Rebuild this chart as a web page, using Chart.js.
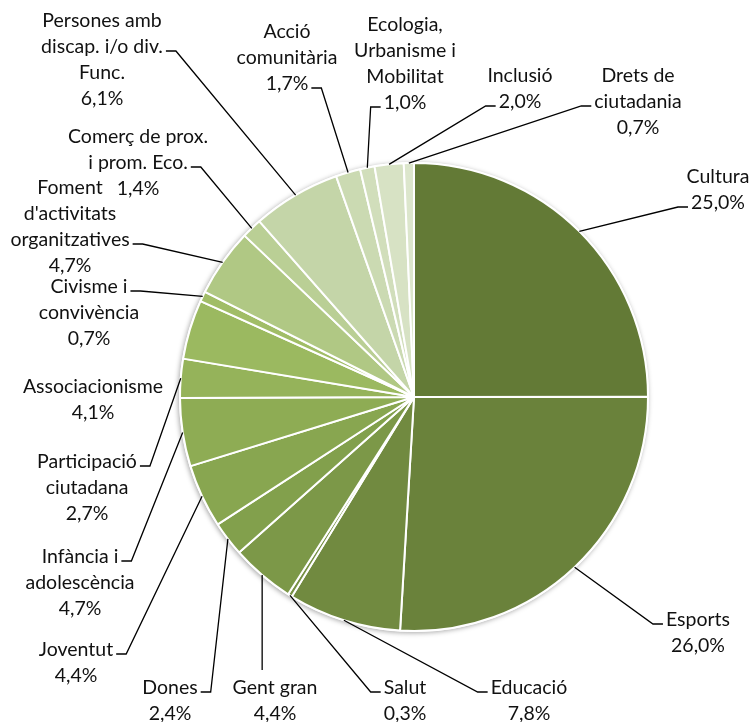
<!DOCTYPE html>
<html>
<head>
<meta charset="utf-8">
<script src="https://cdn.jsdelivr.net/npm/chart.js@4.4.1/dist/chart.umd.min.js"></script>
<style>
  html, body { margin: 0; padding: 0; background: #fff; }
  #wrap { width: 751px; height: 722px; }
</style>
</head>
<body>
<div id="wrap"><canvas id="pieChart" width="751" height="722"></canvas></div>
<script>
// categories (label lines), clockwise from 12 o'clock
const categories = [
  ['Cultura'], ['Esports'], ['Educació'], ['Salut'], ['Gent gran'], ['Dones'],
  ['Joventut'], ['Infància i', 'adolescència'], ['Participació', 'ciutadana'],
  ['Associacionisme'], ['Civisme i', 'convivència'],
  ['Foment', "d'activitats", 'organitzatives'], ['Comerç de prox.', 'i prom. Eco.'],
  ['Persones amb', 'discap. i/o div.', 'Func.'], ['Acció', 'comunitària'],
  ['Ecologia,', 'Urbanisme i', 'Mobilitat'], ['Inclusió'], ['Drets de', 'ciutadania']
];
const shares = [25.0, 26.0, 7.8, 0.3, 4.4, 2.4, 4.4, 4.7, 2.7, 4.1, 0.7, 4.7, 1.4, 6.1, 1.7, 1.0, 2.0, 0.7];

const sliceColors = [
  '#637a36', '#6a823b', '#718a40', '#769044', '#7c9848', '#82a04c',
  '#88a650', '#8eac54', '#95b35a', '#9bb960', '#a1bd67', '#b0c884',
  '#bacf95', '#c4d5a8', '#cbdab2', '#d1debb', '#d7e2c4', '#dce6cc'
];

// label placement (centre x, first line y), which side/line the leader hooks on
const labelLayout = [
  { x: 718, y: 177, side: 'left', line: 1 },
  { x: 698, y: 620, side: 'left', line: 0 },
  { x: 529, y: 688, side: 'left', line: 0 },
  { x: 405, y: 688, side: 'left', line: 0 },
  { x: 275, y: 688, side: 'top', line: 0 },
  { x: 170, y: 688, side: 'right', line: 0 },
  { x: 76, y: 650, side: 'right', line: 0 },
  { x: 80, y: 557, side: 'right', line: 0 },
  { x: 87, y: 462, side: 'right', line: 0 },
  { x: 93, y: 387, side: 'none', line: 0 },
  { x: 89, y: 287, side: 'right', line: 0 },
  { x: 70, y: 188, side: 'right', line: 2 },
  { x: 138, y: 137, side: 'right', line: 1 },
  { x: 102, y: 21, side: 'right', line: 1 },
  { x: 287, y: 32, side: 'right', line: 2 },
  { x: 405, y: 25, side: 'left', line: 3 },
  { x: 520, y: 76, side: 'left', line: 1 },
  { x: 638, y: 76, side: 'left', line: 1 }
];
const lineHeight = 26;
const labelFont = '19.5px Lato';

function pct(v) {
  return v.toFixed(1).replace('.', ',') + '%';
}

const pieShadow = {
  id: 'pieShadow',
  beforeDatasetsDraw(chart) {
    const arc = chart.getDatasetMeta(0).data[0];
    if (!arc) return;
    const p = arc.getProps(['x', 'y', 'outerRadius'], true);
    const ctx = chart.ctx;
    ctx.save();
    ctx.shadowColor = 'rgba(0,0,0,0.35)';
    ctx.shadowBlur = 5;
    ctx.shadowOffsetX = -1;
    ctx.shadowOffsetY = 1;
    ctx.fillStyle = '#fff';
    ctx.beginPath();
    ctx.arc(p.x, p.y, p.outerRadius + 1, 0, Math.PI * 2);
    ctx.fill();
    ctx.restore();
  }
};

const outsideLabels = {
  id: 'outsideLabels',
  afterDatasetsDraw(chart) {
    const ctx = chart.ctx;
    const arcs = chart.getDatasetMeta(0).data;
    ctx.save();
    ctx.font = labelFont;
    ctx.textAlign = 'center';
    ctx.textBaseline = 'middle';
    arcs.forEach((arc, i) => {
      const p = arc.getProps(['x', 'y', 'startAngle', 'endAngle', 'outerRadius'], true);
      const mid = (p.startAngle + p.endAngle) / 2;
      const ax = p.x + Math.cos(mid) * p.outerRadius;
      const ay = p.y + Math.sin(mid) * p.outerRadius;
      const lines = categories[i].concat([pct(shares[i])]);
      const lay = labelLayout[i];

      ctx.strokeStyle = '#000';
      ctx.lineWidth = 1.3;
      if (lay.side === 'left' || lay.side === 'right') {
        const w = ctx.measureText(lines[lay.line]).width;
        const ly = lay.y + lay.line * lineHeight + 4;
        const dir = lay.side === 'left' ? -1 : 1;
        const tx = lay.x + dir * (w / 2 + 3);
        const ex = tx + dir * 10;
        ctx.beginPath();
        ctx.moveTo(tx, ly);
        ctx.lineTo(ex, ly);
        ctx.lineTo(ax, ay);
        ctx.stroke();
      } else if (lay.side === 'top') {
        ctx.beginPath();
        ctx.moveTo(ax, ay);
        ctx.lineTo(ax, lay.y - 18);
        ctx.stroke();
      }

      ctx.fillStyle = '#111';
      lines.forEach((t, k) => ctx.fillText(t, lay.x, lay.y + k * lineHeight));
    });
    ctx.restore();
  }
};

new Chart(document.getElementById('pieChart'), {
  type: 'pie',
  data: {
    labels: categories.map(c => c.join(' ')),
    datasets: [{
      data: shares,
      backgroundColor: sliceColors,
      borderColor: '#fff',
      borderWidth: 2
    }]
  },
  options: {
    responsive: false,
    animation: false,
    layout: { padding: { left: 179, right: 102, top: 162, bottom: 90 } },
    plugins: {
      legend: { display: false },
      tooltip: { enabled: false }
    }
  },
  plugins: [pieShadow, outsideLabels]
});
</script>
</body>
</html>
